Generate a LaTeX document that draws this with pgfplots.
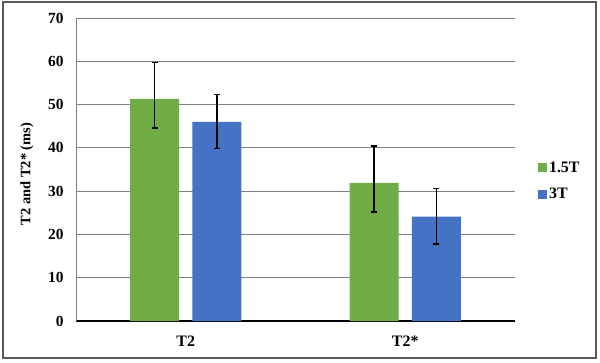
\documentclass[border=0pt]{standalone}
\usepackage{pgfplots}
\pgfplotsset{compat=1.18}
\usepackage{fontspec}
\setmainfont{Liberation Serif}
\definecolor{cgreen}{HTML}{70AD47}
\definecolor{cblue}{HTML}{4472C4}
\begin{document}
\begin{tikzpicture}[x=1bp,y=1bp]
\useasboundingbox (-76,-41) rectangle (524,321);
\draw[color=black!65, line width=1.2bp] (-73,-37) rectangle (520,319);
\begin{axis}[
  at={(0,0)}, anchor=south west,
  scale only axis, width=439bp, height=303bp,
  xmin=-0.5, xmax=1.5, ymin=0, ymax=70,
  xtick={0,1}, xticklabels={T2,T2*},
  ytick={0,10,...,70},
  major tick length=0pt,
  ymajorgrids, grid style={black!50, line width=0.9bp},
  axis x line*=bottom, axis y line*=left,
  x axis line style={-, black, line width=2bp},
  y axis line style={-, black!50, line width=0.9bp},
  /pgf/number format/assume math mode=true,
  yticklabel style={font=\bfseries\fontsize{15.5}{16}\selectfont, xshift=-9bp},
  xticklabel style={font=\bfseries\fontsize{16}{16}\selectfont, yshift=-11bp},
  ylabel={T2 and T2* (ms)},
  ylabel style={font=\bfseries\fontsize{14.5}{15}\selectfont, at={(axis description cs:-0.112,0.485)}, anchor=center, rotate=0},
  ybar, bar width=0.223,
  legend style={draw=none, fill=none, at={(axis description cs:1.052,0.462)}, anchor=west,
    font=\bfseries\fontsize{16}{16}\selectfont, row sep=10bp, inner sep=0pt},
  legend cell align=left,
  legend image code/.code={\fill[#1] (0bp,-4.5bp) rectangle (9bp,4.5bp);},
  error bars/y dir=both, error bars/y explicit,
  error bars/error bar style={black, line width=1.3bp},
  error bars/error mark options={black, line width=1.3bp, mark size=3bp, rotate=90},
]
\addplot[fill=cgreen, draw=none, bar shift=-0.142] coordinates {
  (0,51.3) += (0,8.5) -= (0,6.7)
  (1,31.9) += (0,8.5) -= (0,6.7)
};
\addlegendentry{1.5T}
\addplot[fill=cblue, draw=none, bar shift=0.142] coordinates {
  (0,46.0) += (0,6.4) -= (0,6.2)
  (1,24.1) += (0,6.5) -= (0,6.3)
};
\addlegendentry{3T}
\end{axis}
\end{tikzpicture}
\end{document}
